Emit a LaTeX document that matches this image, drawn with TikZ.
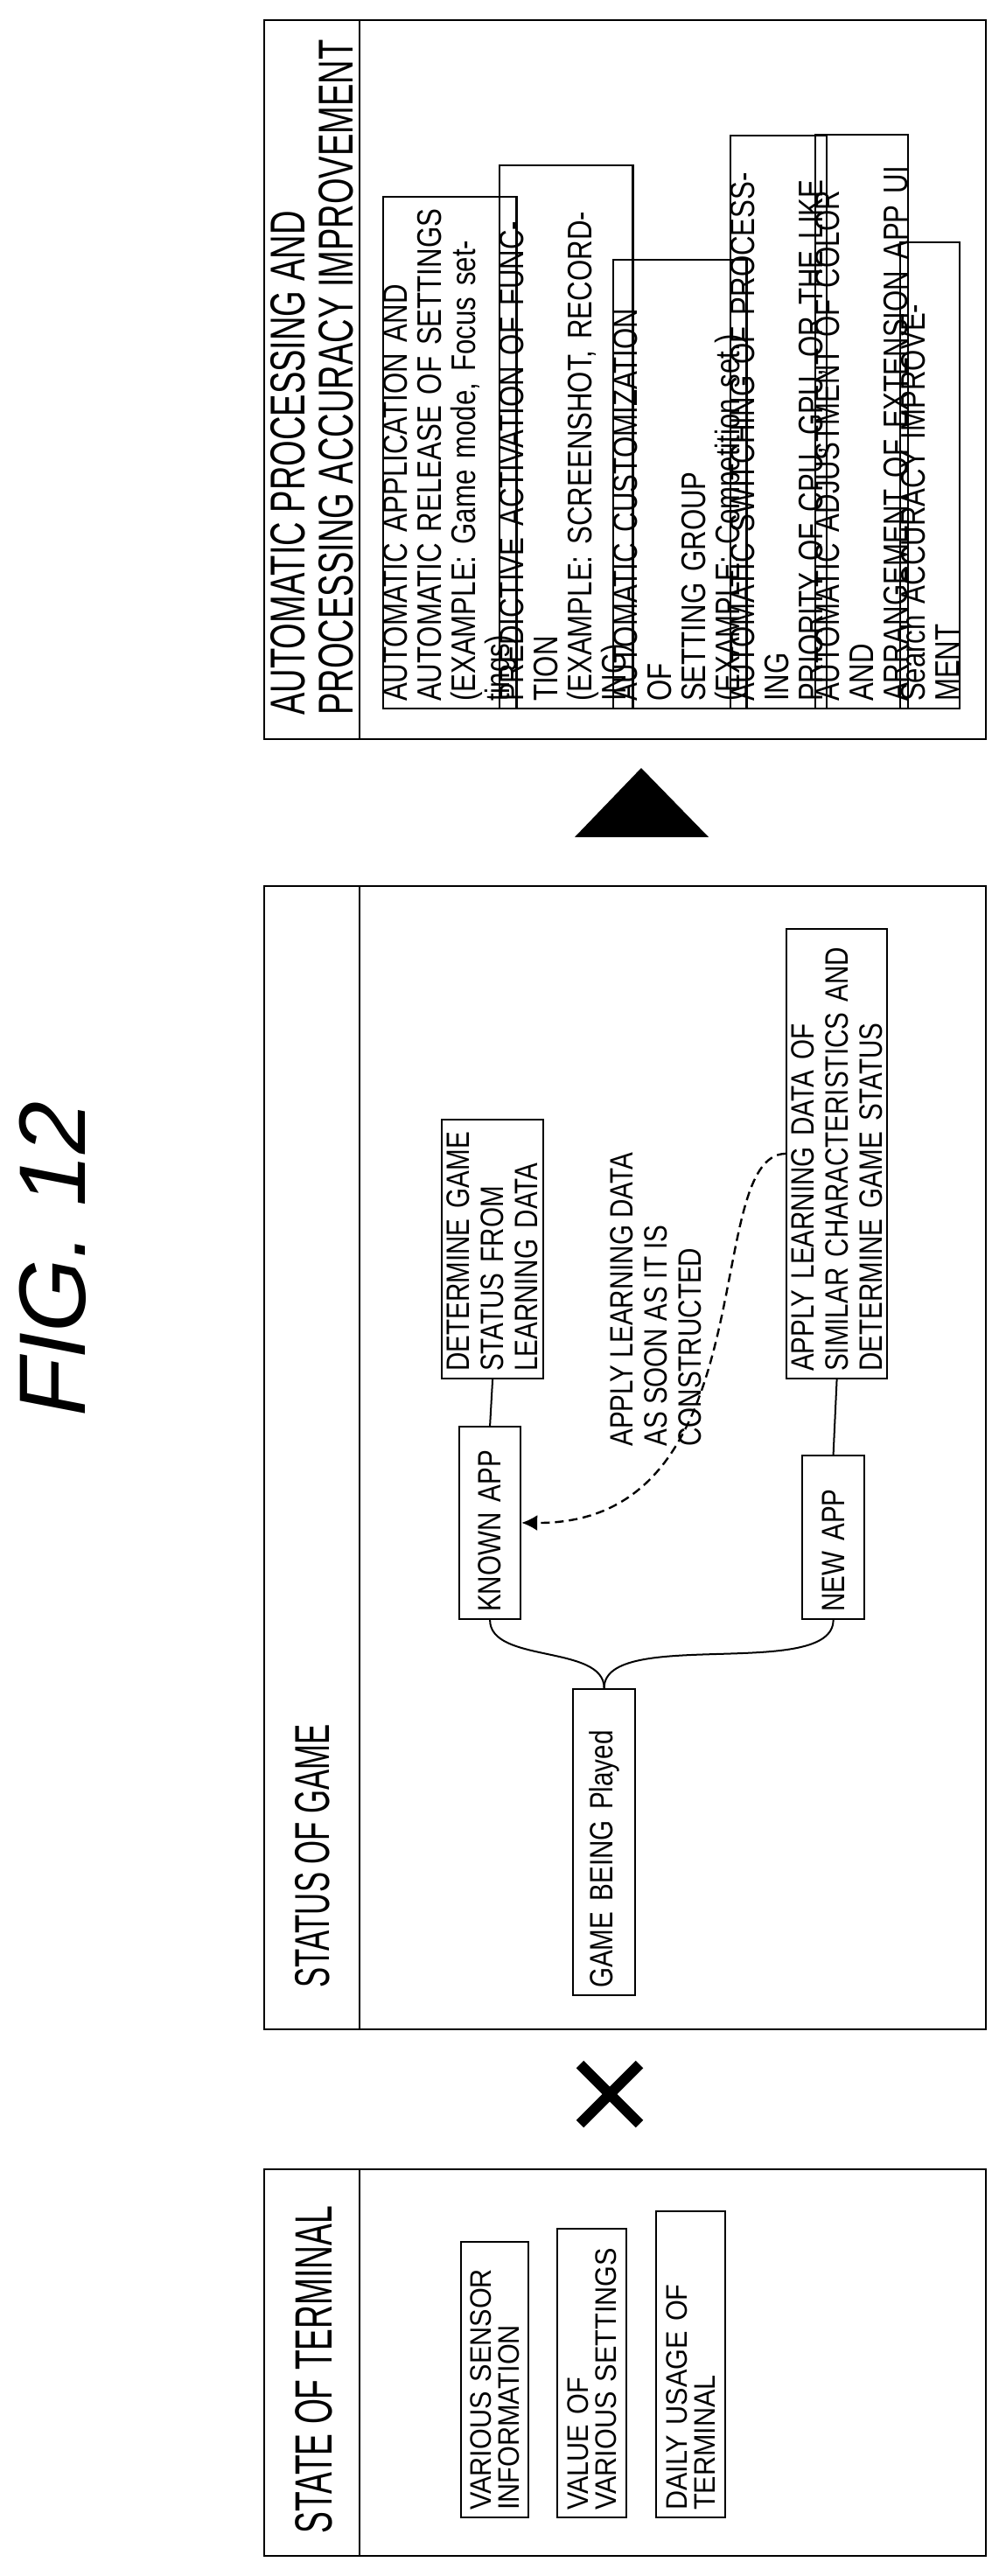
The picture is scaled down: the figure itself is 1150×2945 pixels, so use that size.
\documentclass[tikz,border=0pt]{standalone}
\usepackage{fontspec}
\setmainfont[FakeStretch=0.8]{Liberation Sans}
\newfontfamily\termfont[FakeStretch=0.9]{Liberation Sans}
\newfontfamily\hdfont[FakeStretch=0.62]{Liberation Sans}
\newfontfamily\hdwide[FakeStretch=0.68]{Liberation Sans}
\newfontfamily\figfont{Liberation Sans}
\usetikzlibrary{arrows.meta}

\tikzstyle{frame}=[draw, line width=1.4pt]
\tikzstyle{head}=[rotate=90, anchor=west, inner sep=0pt, align=left]
\tikzstyle{item}=[draw, line width=1.1pt, rotate=90, anchor=north west, inner xsep=4pt, inner ysep=0pt, align=left]
\tikzstyle{link}=[line width=1pt]

\begin{document}
\begin{tikzpicture}[x=0.5pt, y=-0.5pt]
  \useasboundingbox (0,0) rectangle (1150,2945);
  \node[rotate=90, font=\figfont\itshape\fontsize{54}{54}\selectfont] (fig) at (60,1439) {FIG. 12};

  % processing and accuracy
  \draw[frame] (302,23) rectangle (1127,845);
  \draw[frame] (411,23) -- (411,845);
  \node[head, font=\hdwide\fontsize{28}{27.5}\selectfont] (proc) at (357,818) {AUTOMATIC PROCESSING AND\\PROCESSING ACCURACY IMPROVEMENT};
  \begin{scope}[every node/.append style={font=\fontsize{19.5}{19.5}\selectfont}]
    \node[item, minimum width=292.5pt, minimum height=58.5pt, text width=284.5pt] (setting) at (437,811) {AUTOMATIC APPLICATION AND\\AUTOMATIC RELEASE OF SETTINGS\\(EXAMPLE: Game mode, Focus settings)};
    \node[item, minimum width=310.5pt, minimum height=56.5pt, text width=302.5pt] (predict) at (570,811) {PREDICTIVE ACTIVATION OF FUNCTION\\(EXAMPLE: SCREENSHOT, RECORDING)};
    \node[item, minimum width=256.5pt, minimum height=60pt, text width=248.5pt] (custom) at (700,811) {AUTOMATIC CUSTOMIZATION OF\\SETTING GROUP\\(EXAMPLE: Competition set.)};
    \node[item, minimum width=327.5pt, minimum height=41pt, text width=319.5pt] (priority) at (834,811) {AUTOMATIC SWITCHING OF PROCESSING\\PRIORITY OF CPU, GPU, OR THE LIKE};
    \node[item, minimum width=328pt, minimum height=41pt, text width=320pt] (color) at (931,811) {AUTOMATIC ADJUSTMENT OF COLOR AND\\ARRANGEMENT OF EXTENSION APP UI};
    \node[item, minimum width=266.5pt, minimum height=34pt, text width=258.5pt] (search) at (1028,811) {Search ACCURACY IMPROVEMENT};
  \end{scope}
  \fill (733,878) -- (657,957) -- (810,957) -- cycle;

  % status of game
  \draw[frame] (302,1013) rectangle (1127,2320);
  \draw[frame] (411,1013) -- (411,2320);
  \node[head, font=\hdfont\fontsize{28}{28}\selectfont] (game) at (357,2273) {STATUS OF GAME};
  \begin{scope}[every node/.append style={font=\fontsize{18.5}{19.5}\selectfont}]
    \node[item, minimum width=148pt, minimum height=58pt, text width=140pt] (determine) at (504,1577) {DETERMINE GAME\\STATUS FROM\\LEARNING DATA};
    \node[item, minimum width=110pt, minimum height=35pt, text width=102pt] (known) at (524,1852) {KNOWN APP};
    \node[item, minimum width=93.5pt, minimum height=35.5pt, text width=85.5pt] (new) at (916,1852) {NEW APP};
    \node[item, minimum width=257pt, minimum height=57.5pt, text width=249pt] (similar) at (898,1577) {APPLY LEARNING DATA OF\\SIMILAR CHARACTERISTICS AND\\DETERMINE GAME STATUS};
    \node[item, minimum width=175pt, minimum height=35.5pt, text width=167pt] (played) at (654,2282) {GAME BEING Played};
    \node[head] (apply) at (750,1654) {APPLY LEARNING DATA\\AS SOON AS IT IS\\CONSTRUCTED};
  \end{scope}
  \draw[link] (known.east) -- (determine.west);
  \draw[link] (new.east) -- (similar.west);
  \draw[link] (known.west) .. controls +(0,50) and +(0,-50) .. (played.east);
  \draw[link] (new.west) .. controls +(0,70) and +(0,-70) .. (played.east);
  \draw[link, line width=1.2pt, dash pattern=on 5pt off 3pt, -{Latex[length=9pt, width=9pt]}] (similar.north) .. controls (800,1321) and (880,1743) .. (known.south);

  \draw[line width=6pt] (663,2360) -- (731,2428);
  \draw[line width=6pt] (731,2360) -- (663,2428);

  % state of terminal
  \draw[frame] (302,2480) rectangle (1127,2922);
  \draw[frame] (411,2480) -- (411,2922);
  \node[head, font=\hdfont\fontsize{30}{30}\selectfont] (terminal) at (359,2897) {STATE OF TERMINAL};
  \begin{scope}[every node/.append style={font=\termfont\fontsize{17}{16}\selectfont}]
    \node[item, minimum width=157.5pt, minimum height=38.5pt, text width=149.5pt] (sensor) at (526,2879) {VARIOUS SENSOR\\INFORMATION};
    \node[item, minimum width=165pt, minimum height=39.5pt, text width=157pt] (value) at (636,2879) {VALUE OF\\VARIOUS SETTINGS};
    \node[item, minimum width=175pt, minimum height=39.5pt, text width=167pt] (usage) at (749,2879) {DAILY USAGE OF\\TERMINAL};
  \end{scope}
\end{tikzpicture}
\end{document}
